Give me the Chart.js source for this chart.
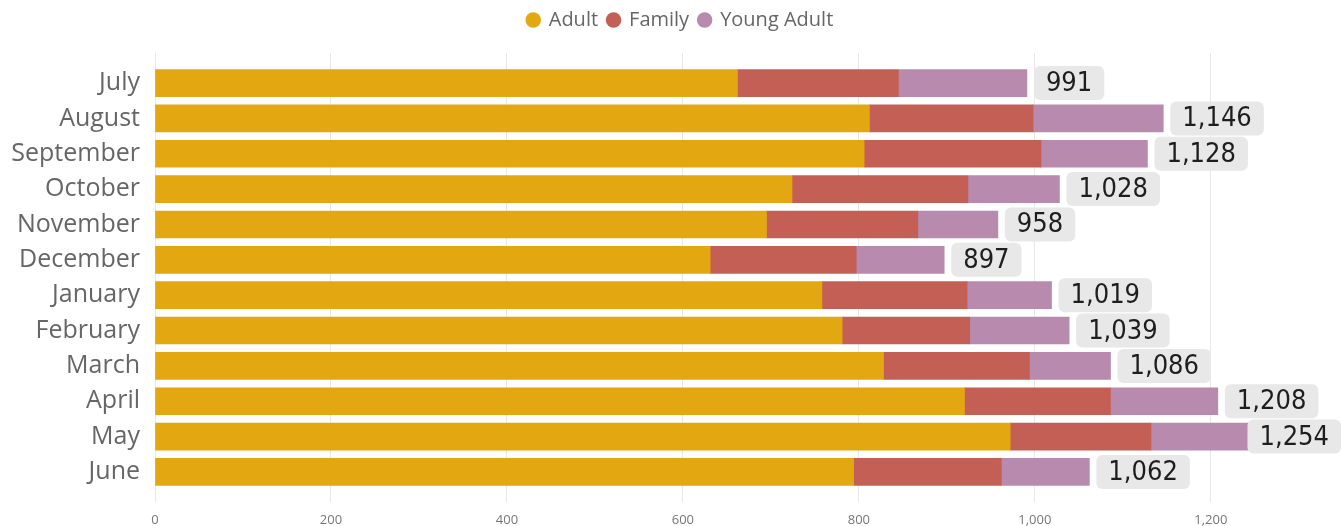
<!DOCTYPE html>
<html>
<head>
<meta charset="utf-8">
<script src="https://cdn.jsdelivr.net/npm/chart.js@4/dist/chart.umd.min.js"></script>
<style>
  html, body { margin: 0; padding: 0; background: #ffffff; }
  #wrap { width: 1341px; height: 526px; }
</style>
</head>
<body>
<div id="wrap"><canvas id="c" width="1341" height="526"></canvas></div>
<script>
const months = ['July', 'August', 'September', 'October', 'November', 'December',
                'January', 'February', 'March', 'April', 'May', 'June'];
const adult      = [662, 812, 806, 724, 695, 631, 758, 781, 828, 920, 972, 794];
const family     = [183, 186, 201, 200, 172, 166, 165, 145, 166, 166, 160, 168];
const youngAdult = [146, 148, 121, 104,  91, 100,  96, 113,  92, 122, 122, 100];
const totals     = [991, 1146, 1128, 1028, 958, 897, 1019, 1039, 1086, 1208, 1254, 1062];
const xTickStep = 200;

const uiFont = "'Open Sans', 'Noto Sans', sans-serif";
const labelFont = "'DejaVu Sans Condensed', 'Liberation Sans Narrow', 'Roboto Condensed', sans-serif";

function toPoints(arr) { return arr.map((v, i) => ({ x: v, y: i })); }
function mkDataset(label, arr, color) {
  return { label, data: toPoints(arr), backgroundColor: color, borderWidth: 0, barThickness: 27 };
}

const legendHeight = {
  id: 'legendHeight',
  beforeLayout(chart) {
    const l = chart.legend;
    if (l && !l._patched) {
      const f = l.fit;
      l.fit = function () { f.call(this); this.height = 53; };
      const d = l.draw;
      l.draw = function () {
        const ctx = this.ctx;
        ctx.save();
        ctx.translate(10, 0);
        d.call(this);
        ctx.restore();
      };
      l._patched = true;
    }
  }
};

const totalLabels = {
  id: 'totalLabels',
  afterDatasetsDraw(chart) {
    const ctx = chart.ctx;
    const meta = chart.getDatasetMeta(chart.data.datasets.length - 1);
    ctx.save();
    ctx.font = "27px " + labelFont;
    ctx.textBaseline = 'middle';
    ctx.textAlign = 'left';
    meta.data.forEach((bar, i) => {
      const txt = totals[i].toLocaleString('en-US');
      const tw = ctx.measureText(txt).width;
      const bw = tw + 24;
      const bh = 34;
      let bx = bar.x + 7;
      if (bx + bw > chart.width) bx = chart.width - bw;
      const by = bar.y - bh / 2;
      ctx.fillStyle = '#e8e8e8';
      ctx.beginPath();
      ctx.roundRect(bx, by, bw, bh, 6);
      ctx.fill();
      ctx.fillStyle = '#1e1e1e';
      ctx.fillText(txt, bx + 12, bar.y + 1);
    });
    ctx.restore();
  }
};

new Chart(document.getElementById('c'), {
  type: 'bar',
  data: {
    datasets: [
      mkDataset('Adult', adult, '#E3A712'),
      mkDataset('Family', family, '#C45F55'),
      mkDataset('Young Adult', youngAdult, '#B78AAE')
    ]
  },
  options: {
    indexAxis: 'y',
    responsive: false,
    animation: false,
    devicePixelRatio: 1,
    layout: { padding: 0 },
    plugins: {
      legend: {
        position: 'top',
        align: 'center',
        labels: {
          usePointStyle: true,
          pointStyle: 'circle',
          boxWidth: 11,
          boxHeight: 11,
          padding: 10,
          color: '#666666',
          font: { family: uiFont, size: 20 }
        }
      },
      tooltip: { enabled: false }
    },
    scales: {
      x: {
        type: 'linear',
        stacked: true,
        min: 0,
        max: 1348,
        grid: { color: '#e8e8e8', drawTicks: false, lineWidth: 1 },
        border: { display: false },
        ticks: {
          stepSize: xTickStep,
          padding: 10,
          color: '#777777',
          font: { family: uiFont, size: 13 },
          callback: v => v.toLocaleString('en-US')
        },
        afterBuildTicks: s => { s.ticks = s.ticks.filter(t => t.value % xTickStep === 0); },
        afterFit: s => { s.height = 24; s.paddingLeft = 0; s.paddingRight = 0; }
      },
      y: {
        type: 'linear',
        stacked: true,
        reverse: true,
        offset: false,
        min: -0.85,
        max: 11.85,
        grid: { display: false, drawTicks: false, offset: false },
        border: { display: false },
        ticks: {
          autoSkip: false,
          padding: 15,
          color: '#666666',
          font: { family: uiFont, size: 25 },
          callback: v => months[v]
        },
        afterBuildTicks: s => { s.ticks = months.map((m, i) => ({ value: i })); },
        afterFit: s => { s.width = 155; s.paddingTop = 0; s.paddingBottom = 0; }
      }
    }
  },
  plugins: [legendHeight, totalLabels]
});
</script>
</body>
</html>
